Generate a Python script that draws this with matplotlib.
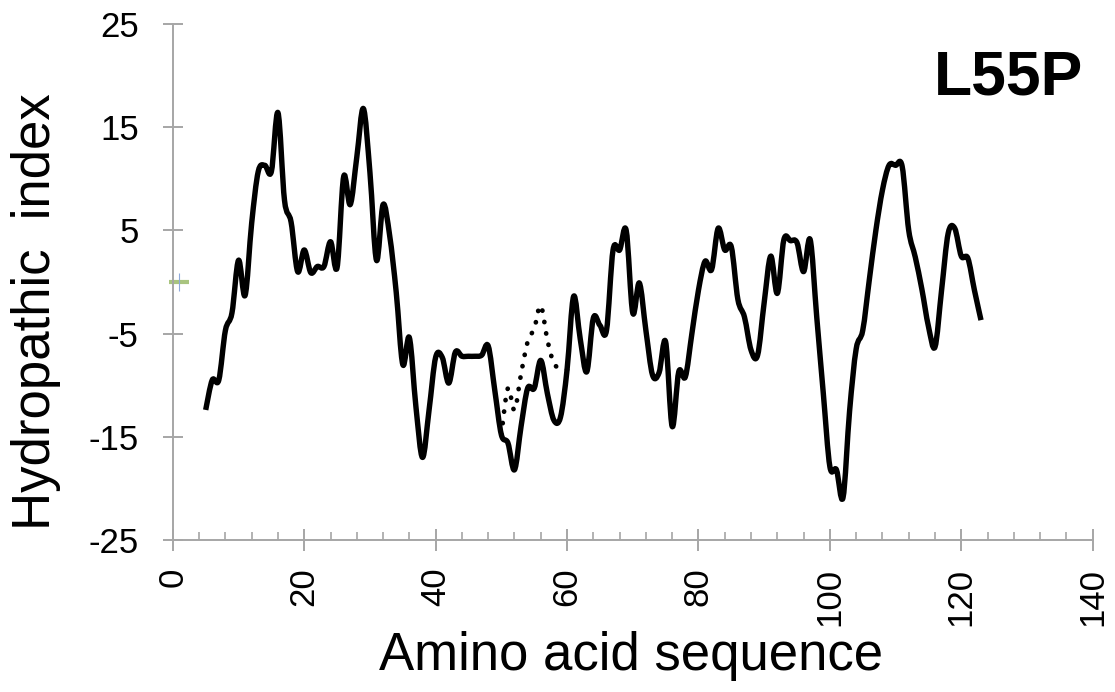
import numpy as np
import matplotlib.pyplot as plt
from matplotlib.path import Path
from matplotlib.patches import PathPatch

plt.rcParams['font.family'] = ['Liberation Sans', 'DejaVu Sans']
plt.rcParams['axes.unicode_minus'] = False

# hydropathy profile, residues 5..123
residues = np.arange(5, 124)
hydro = [
    -12.4, -9.5, -9.5, -4.7, -3.0, 2.1, -1.3, 5.7, 10.7, 11.3,      # 5-14
    10.7, 16.4, 7.9, 5.8, 1.0, 3.1, 0.9, 1.5, 1.5, 3.9,             # 15-24
    1.4, 10.2, 7.5, 12.1, 16.8, 10.6, 2.1, 7.5, 4.5, -1.0,          # 25-34
    -8.0, -5.4, -12.1, -17.0, -12.4, -7.3, -7.3, -9.8, -6.8, -7.2,  # 35-44
    -7.2, -7.2, -7.1, -6.2, -10.5, -14.8, -15.6, -18.2, -14.0, -10.3,  # 45-54
    -10.3, -7.6, -10.8, -13.4, -13.1, -8.5, -1.4, -5.5, -8.7, -3.5,    # 55-64
    -4.2, -4.7, 3.1, 3.1, 5.0, -3.0, -0.1, -4.7, -9.0, -8.8,        # 65-74
    -5.8, -14.0, -8.7, -9.2, -5.0, -0.8, 2.0, 1.2, 5.2, 3.1,        # 75-84
    3.4, -1.7, -3.4, -6.6, -7.1, -2.0, 2.5, -1.1, 4.1, 4.0,         # 85-94
    3.8, 1.0, 4.1, -3.4, -10.8, -17.9, -18.2, -20.9, -12.5, -6.5,   # 95-104
    -4.7, 0.2, 5.0, 8.9, 11.3, 11.3, 11.2, 5.0, 2.4, -0.7,          # 105-114
    -4.3, -6.3, -0.8, 4.7, 5.2, 2.5, 2.3, -0.8, -3.7,               # 115-123
]

# L55P mutant stretch
mut_residues = np.arange(50, 61)
mut_hydro = [-14.8, -10.3, -12.4, -8.9, -5.8, -4.5, -2.3, -5.6, -7.9, -8.3, -8.5]

# stray marker near the origin
mark_x = [0.9]
mark_y = [0.0]

gray = '#A6A6A6'


def smooth_path(x, y):
    # cubic bezier through every point (catmull-rom style tangents)
    pts = np.column_stack([np.asarray(x, float), np.asarray(y, float)])
    p = np.vstack([pts[0], pts, pts[-1]])
    verts = [pts[0]]
    codes = [Path.MOVETO]
    for i in range(1, len(p) - 2):
        p0, p1, p2, p3 = p[i - 1], p[i], p[i + 1], p[i + 2]
        verts += [p1 + (p2 - p0) / 6, p2 - (p3 - p1) / 6, p2]
        codes += [Path.CURVE4] * 3
    return Path(verts, codes)


fig = plt.figure(figsize=(11.15, 6.92), dpi=100)
ax = fig.add_axes([0.155, 0.2197, 0.825, 0.7457])
ax.set_xlim(0, 140)
ax.set_ylim(-25, 25)

ax.add_patch(PathPatch(smooth_path(mut_residues, mut_hydro), fill=False,
                       color='black', lw=3.4, linestyle=(0, (0.05, 2.4)),
                       capstyle='round'))
ax.add_patch(PathPatch(smooth_path(residues, hydro), fill=False,
                       color='black', lw=3.9, capstyle='butt', joinstyle='round'))

ax.errorbar(mark_x, mark_y, xerr=1.5, fmt='none', ecolor='#A9C47F',
            elinewidth=3, capsize=0, clip_on=False)
ax.errorbar(mark_x, mark_y, yerr=0.9, fmt='none', ecolor='#8EA9DB',
            elinewidth=0.8, capsize=0, clip_on=False)

for s in ['top', 'right']:
    ax.spines[s].set_visible(False)
for s in ['left', 'bottom']:
    ax.spines[s].set_color(gray)
    ax.spines[s].set_linewidth(1.4)

ax.set_xticks(np.arange(0, 141, 20))
ax.set_xticks(np.arange(0, 141, 4), minor=True)
ax.set_yticks(np.arange(-25, 26, 10))

ax.tick_params(axis='x', which='major', direction='inout', length=16, width=1.4,
               color=gray, labelsize=25, labelrotation=90, pad=12)
ax.tick_params(axis='x', which='minor', direction='in', length=6, width=1.2, color=gray)
ax.tick_params(axis='y', which='major', direction='inout', length=15, width=1.4,
               color=gray, labelsize=25, pad=17)

fig.text(0.498 * 0.825 + 0.155, 0.032, 'Amino acid sequence', fontsize=38,
         ha='center', va='baseline')
fig.text(0.045, 0.549, 'Hydropathic  index', fontsize=38, rotation=90,
         rotation_mode='anchor', ha='center', va='baseline')
fig.text(0.971, 0.863, 'L55P', fontsize=45, fontweight='bold',
         ha='right', va='baseline')

fig.savefig('out.png', dpi=100)
